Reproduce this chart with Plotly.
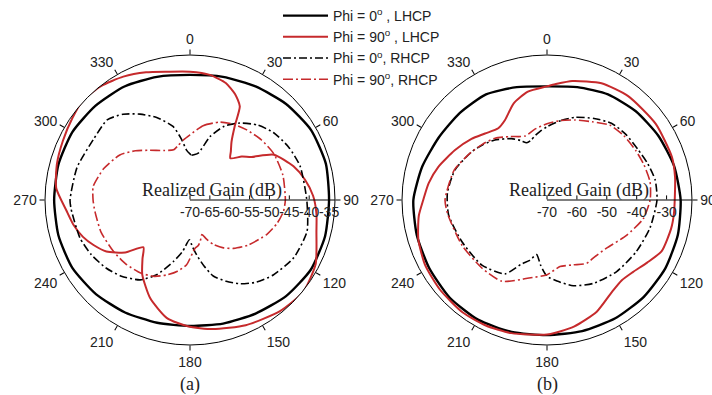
import plotly.graph_objects as go

# ---------------- data (theta in degrees, value in dB) ----------------
# (a)
a_lhcp0_theta = [0, 15, 30, 45, 60, 75, 90, 105, 120, 135, 150, 165, 180, 195, 210, 225, 240, 255, 270, 285, 300, 315, 330, 345, 360]
a_lhcp0_r = [-38.5, -37.9, -37.0, -35.8, -34.8, -34.6, -35.0, -34.8, -34.9, -35.8, -37.0, -37.8, -38.3, -38.0, -37.3, -36.5, -35.8, -35.7, -35.8, -35.7, -35.8, -36.4, -37.0, -37.9, -38.5]

a_lhcp90_theta = [0, 9, 17, 23, 28, 31, 35.5, 40, 44, 50, 55, 61.6, 72, 80, 88, 96, 104, 117, 129, 141, 156, 170, 181, 191, 202, 212.6, 219, 224.6, 231, 238.4, 245, 251, 258, 265, 275, 285, 295, 305, 313, 322, 331.6, 341, 350, 360]
a_lhcp90_r = [-37.7, -38.1, -39.2, -41.0, -43.3, -48.0, -52.0, -54.0, -55.4, -53.0, -51.1, -46.0, -42.6, -40.6, -39.0, -38.0, -37.2, -34.5, -33.3, -34.0, -35.5, -37.0, -38.2, -39.7, -43.3, -47.7, -51.0, -53.3, -49.0, -45.3, -43.2, -41.5, -40.0, -38.8, -36.2, -35.3, -34.7, -33.9, -33.2, -33.6, -34.7, -36.0, -37.2, -37.7]

a_rhcp0_theta = [0, 2, 10, 17.5, 25, 33, 42, 51, 62, 73, 90, 105, 119, 132, 141, 149, 156, 163, 168, 173, 177, 181, 188, 195, 204, 212, 222, 231, 241, 251, 265.5, 270, 286, 302, 314, 322, 329.8, 338, 347, 352, 356, 360]
a_rhcp0_r = [-58.4, -58.7, -58.0, -53.3, -49.5, -46.9, -44.6, -43.0, -41.8, -41.0, -40.6, -39.5, -40.1, -41.8, -43.4, -45.4, -47.6, -50.0, -53.0, -56.0, -58.2, -60.0, -57.0, -54.0, -49.4, -46.3, -44.2, -42.8, -41.6, -40.7, -40.0, -39.8, -40.4, -41.3, -41.0, -42.6, -45.0, -47.6, -51.0, -54.5, -57.4, -58.4]

a_rhcp90_theta = [0, 10, 21, 30, 39, 50, 61, 75, 90, 97, 105, 114, 128, 138, 145, 152, 157, 161, 166, 170, 174, 183, 190, 197, 205, 214, 225, 236, 250, 263, 270, 278, 290, 302.7, 312, 321, 332, 342, 348, 353.7, 360]
a_rhcp90_r = [-53.6, -51.0, -49.0, -48.0, -47.3, -46.5, -45.9, -45.8, -46.0, -46.3, -47.3, -48.8, -51.5, -53.6, -55.3, -57.3, -59.3, -60.8, -59.3, -58.3, -57.8, -53.7, -51.8, -50.3, -48.8, -47.8, -47.2, -46.8, -46.2, -45.9, -45.6, -45.4, -46.9, -49.0, -51.5, -53.9, -55.9, -56.7, -55.9, -54.8, -53.6]

# (b)
b_lhcp0_theta = [0, 15, 30, 45, 60, 75, 90, 105, 120, 135, 150, 165, 180, 195, 210, 225, 240, 255, 270, 285, 300, 315, 330, 345, 360]
b_lhcp0_r = [-32.0, -30.9, -29.2, -28.0, -27.0, -26.0, -25.3, -24.7, -24.3, -24.2, -24.3, -24.6, -24.8, -24.3, -23.8, -23.9, -24.5, -24.9, -25.3, -26.8, -28.2, -28.8, -29.2, -30.9, -32.0]

b_lhcp90_theta = [0, 4, 12, 25, 38, 55, 71, 80, 88, 96, 103, 114, 122, 130, 137, 145, 156, 168, 180, 195, 206, 217, 230, 242, 253, 263, 270, 278, 287, 298.5, 309, 317, 325.8, 332.3, 341, 350, 360]
b_lhcp90_r = [-32.0, -31.2, -29.3, -26.9, -25.9, -25.6, -25.8, -26.5, -27.2, -27.3, -27.4, -28.0, -30.5, -32.5, -33.3, -32.3, -29.1, -26.7, -25.0, -23.9, -23.3, -23.0, -23.3, -23.8, -25.0, -26.8, -28.6, -30.0, -32.0, -35.0, -37.5, -39.6, -41.0, -39.8, -35.8, -33.2, -32.0]

b_rhcp0_theta = [0, 10, 18.7, 30, 40, 50, 61, 70, 79.5, 90, 105, 120, 136, 151, 163, 173, 180, 185.5, 190.7, 196, 202, 209.6, 225, 244, 261.5, 274, 288, 302.7, 311, 319, 330, 336, 340.5, 345, 350, 354, 360]
b_rhcp0_r = [-45.5, -43.0, -40.8, -38.5, -36.5, -35.7, -35.2, -34.2, -33.2, -33.2, -34.3, -35.5, -36.6, -38.1, -40.0, -42.7, -44.5, -48.0, -51.4, -49.0, -46.8, -41.6, -39.2, -38.3, -36.7, -36.6, -37.6, -40.1, -41.7, -43.4, -46.3, -48.2, -49.7, -49.3, -48.0, -47.0, -45.5]

b_rhcp90_theta = [0, 10, 19, 30, 40, 50, 61, 70, 80, 90, 101, 114, 129, 140, 148, 158, 169, 180, 193, 209, 224, 242, 261.5, 270, 288, 302, 311, 320, 330, 341, 350, 360]
b_rhcp90_r = [-44.5, -43.0, -41.7, -39.8, -37.3, -36.5, -36.0, -35.5, -35.0, -35.5, -37.2, -40.9, -44.4, -45.2, -45.0, -46.6, -47.3, -45.0, -43.2, -38.9, -38.5, -37.8, -36.5, -35.9, -37.4, -40.0, -41.5, -43.0, -45.5, -47.4, -46.0, -44.5]

a_rticks = [-70, -65, -60, -55, -50, -45, -40, -35]
b_rticks = [-70, -60, -50, -40, -30]
a_range = [-70, -33.5]
b_range = [-70, -21.5]
ang_ticks = [0, 30, 60, 90, 120, 150, 180, 210, 240, 270, 300, 330]

names = ["Phi = 0<sup>o</sup> , LHCP", "Phi = 90<sup>o</sup> , LHCP",
         "Phi = 0<sup>o</sup>, RHCP", "Phi = 90<sup>o</sup>, RHCP"]

# ---------------- styling ----------------
RED = "#c62a2c"
styles = [
    dict(color="black", width=2.4, dash="solid"),
    dict(color=RED, width=2.0, dash="solid"),
    dict(color="black", width=1.6, dash="8px,3px,2px,3px"),
    dict(color=RED, width=1.6, dash="10px,3px,2px,3px"),
]

fig = go.Figure()
a_sets = [(a_lhcp0_theta, a_lhcp0_r), (a_lhcp90_theta, a_lhcp90_r),
          (a_rhcp0_theta, a_rhcp0_r), (a_rhcp90_theta, a_rhcp90_r)]
b_sets = [(b_lhcp0_theta, b_lhcp0_r), (b_lhcp90_theta, b_lhcp90_r),
          (b_rhcp0_theta, b_rhcp0_r), (b_rhcp90_theta, b_rhcp90_r)]

for i, (th, rr) in enumerate(a_sets):
    fig.add_trace(go.Scatterpolar(theta=th, r=rr, mode="lines", name=names[i],
                                  line=dict(shape="spline", smoothing=0.6, **styles[i]),
                                  subplot="polar", legendgroup=str(i), showlegend=True))
for i, (th, rr) in enumerate(b_sets):
    fig.add_trace(go.Scatterpolar(theta=th, r=rr, mode="lines", name=names[i],
                                  line=dict(shape="spline", smoothing=0.6, **styles[i]),
                                  subplot="polar2", legendgroup=str(i), showlegend=False))

W, H = 712, 395
R = 145
def dom(cx, cy):
    return dict(x=[(cx - R) / W, (cx + R) / W], y=[(H - cy - R) / H, (H - cy + R) / H])

tick_font = dict(family="Liberation Sans, Arial, sans-serif", size=14, color="#222")

def polar_layout(cx, cy, rng, rticks):
    return dict(
        domain=dom(cx, cy),
        bgcolor="white",
        angularaxis=dict(rotation=90, direction="clockwise", tickmode="array",
                         tickvals=ang_ticks, ticktext=[str(t) for t in ang_ticks],
                         showgrid=False, showline=True, linecolor="black", linewidth=1,
                         ticks="outside", ticklen=5, tickcolor="black", tickfont=tick_font),
        radialaxis=dict(range=rng, angle=0, tickangle=0, tickmode="array", tickvals=rticks,
                        ticktext=[str(t) for t in rticks],
                        showgrid=False, showline=True, linecolor="black", linewidth=1.2,
                        ticks="inside", ticklen=4, tickcolor="black", side="clockwise",
                        tickfont=tick_font),
    )

serif = dict(family="Liberation Serif, Times New Roman, serif", size=18, color="#222")

fig.update_layout(
    width=W, height=H,
    margin=dict(l=0, r=0, t=0, b=0),
    paper_bgcolor="white",
    polar=polar_layout(190, 200, a_range, a_rticks),
    polar2=polar_layout(547, 200, b_range, b_rticks),
    showlegend=True,
    legend=dict(x=278 / W, y=1.0, xanchor="left", yanchor="top",
                bgcolor="rgba(0,0,0,0)", font=dict(family="Liberation Sans, Arial, sans-serif", size=14, color="#222"),
                itemwidth=45, tracegroupgap=0),
    annotations=[
        dict(text="Realized Gain (dB)", x=212 / W, y=(H - 203) / H, xref="paper", yref="paper",
             xanchor="center", yanchor="bottom", showarrow=False, font=serif),
        dict(text="Realized Gain (dB)", x=579 / W, y=(H - 203) / H, xref="paper", yref="paper",
             xanchor="center", yanchor="bottom", showarrow=False, font=serif),
        dict(text="(a)", x=190 / W, y=(H - 384) / H, xref="paper", yref="paper",
             xanchor="center", yanchor="middle", showarrow=False, font=serif),
        dict(text="(b)", x=547 / W, y=(H - 384) / H, xref="paper", yref="paper",
             xanchor="center", yanchor="middle", showarrow=False, font=serif),
    ],
)

fig.write_html("out.html")
